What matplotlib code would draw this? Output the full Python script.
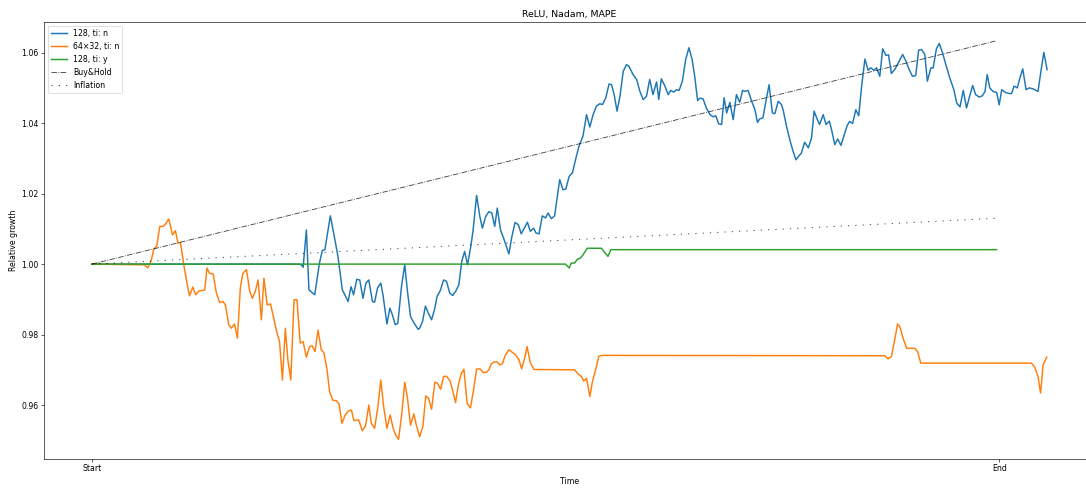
import matplotlib
matplotlib.use("Agg")
import matplotlib.pyplot as plt

# Tick positions / labels on the time axis
time_ticks = [0, 250]
time_labels = ["Start", "End"]

legend_labels = ["128, ti: n", "64\u00d732, ti: n", "128, ti: y", "Buy&Hold", "Inflation"]

# 128, ti: n
blue_t = [0, 57.0, 57.7, 58.2, 59.1, 59.8, 61.4, 62.7, 63.5, 64.2, 65.7, 66.8, 67.8, 69.0,
          70.6, 71.4, 72.1, 73.0, 73.8, 74.7, 75.5, 76.3, 77.3, 77.9, 78.7, 79.6, 80.2,
          81.3, 82.1, 82.8, 83.6, 84.3, 85.3, 86.2, 86.9, 87.8, 88.8, 89.9, 90.3, 91.1,
          91.9, 92.7, 93.6, 94.5, 95.1, 96.0, 96.9, 97.7, 98.6, 99.4, 100.2, 101.1, 101.9,
          102.7, 103.5, 104.4, 105.0, 106.0, 106.9, 107.6, 108.5, 109.4, 110.2, 111.0,
          111.7, 112.6, 113.6, 114.9, 115.7, 116.6, 117.5, 118.3, 119.3, 120.0, 120.8,
          121.7, 122.4, 123.2, 124.1, 125.0, 125.7, 126.6, 127.5, 128.2, 128.9, 129.8,
          130.6, 131.5, 132.4, 133.5, 134.2, 135.3, 136.3, 137.2, 138.1, 139.0, 139.9,
          140.7, 141.6, 142.5, 143.2, 143.9, 144.7, 145.5, 146.4, 147.3, 148.0, 149.1,
          150.1, 151.0, 151.9, 152.8, 153.7, 154.6, 155.6, 156.2, 156.9, 157.9, 158.8,
          159.5, 160.3, 161.1, 161.8, 162.7, 163.6, 164.5, 165.4, 166.1, 166.9, 167.5,
          168.4, 169.3, 170.3, 171.2, 171.9, 172.7, 173.5, 174.2, 174.9, 175.8, 176.7,
          177.6, 178.5, 179.3, 179.9, 180.8, 181.8, 182.7, 183.4, 184.0, 184.9, 185.9,
          186.6, 187.5, 188.2, 189.1, 190.0, 190.5, 191.4, 192.3, 193.2, 194.0, 194.9,
          195.5, 196.4, 197.4, 198.3, 199.0, 199.7, 200.5, 201.5, 202.3, 203.2, 203.8,
          204.7, 205.5, 206.4, 207.2, 208.1, 208.8, 209.6, 210.5, 211.3, 212.1, 213.0,
          213.9, 214.6, 215.5, 216.2, 217.1, 217.9, 218.8, 219.5, 220.3, 221.2, 222.2,
          223.4, 224.3, 225.2, 226.1, 227.0, 227.8, 228.6, 229.5, 230.2, 231.2, 231.8,
          232.7, 233.5, 234.4, 235.3, 236.4, 237.5, 238.3, 239.2, 240.1, 241.0, 241.9,
          242.7, 243.5, 244.5, 245.4, 246.1, 246.7, 247.4, 248.3, 249.3, 250.0, 250.7,
          251.7, 252.8, 253.4, 254.1, 255.0, 255.7, 256.5, 257.4, 258.3, 259.4, 260.7,
          261.5, 262.3, 263.2]
blue_v = [1.0, 1.0, 0.9998, 0.9991, 1.0097, 0.9927, 0.9913, 1.0003, 1.0039, 1.0041, 1.0137,
          1.0078, 1.0022, 0.9927, 0.9894, 0.9936, 0.9913, 0.9957, 0.9955, 0.9903, 0.9946,
          0.9955, 0.9894, 0.9892, 0.9932, 0.9946, 0.9913, 0.9830, 0.9875, 0.9856, 0.9828,
          0.9832, 0.9936, 0.9999, 0.9927, 0.9851, 0.9832, 0.9815, 0.9818, 0.9837, 0.9881,
          0.9861, 0.9842, 0.9875, 0.9908, 0.9925, 0.9955, 0.9951, 0.9918, 0.9911, 0.9922,
          0.9941, 1.0007, 1.0036, 0.9998, 1.0050, 1.0093, 1.0195, 1.0135, 1.0102, 1.0135,
          1.0149, 1.0145, 1.0107, 1.0159, 1.0097, 1.0069, 1.0029, 1.0077, 1.0118, 1.0112,
          1.0086, 1.0105, 1.0119, 1.0093, 1.0102, 1.0088, 1.0086, 1.0137, 1.0131, 1.0145,
          1.0129, 1.0137, 1.0188, 1.0240, 1.0211, 1.0213, 1.0249, 1.0259, 1.0306, 1.0334,
          1.0363, 1.0424, 1.0389, 1.0424, 1.0448, 1.0455, 1.0453, 1.0472, 1.0511, 1.0509,
          1.0481, 1.0434, 1.0476, 1.0547, 1.0566, 1.0561, 1.0538, 1.0524, 1.0490, 1.0467,
          1.0476, 1.0524, 1.0481, 1.0517, 1.0467, 1.0526, 1.0505, 1.0481, 1.0493, 1.0488,
          1.0495, 1.0493, 1.0519, 1.0580, 1.0614, 1.0580, 1.0533, 1.0464, 1.0471, 1.0469,
          1.0443, 1.0424, 1.0418, 1.0421, 1.0398, 1.0396, 1.0472, 1.0429, 1.0459, 1.0410,
          1.0481, 1.0459, 1.0493, 1.0490, 1.0493, 1.0462, 1.0438, 1.0402, 1.0412, 1.0415,
          1.0472, 1.0509, 1.0429, 1.0427, 1.0462, 1.0453, 1.0436, 1.0391, 1.0353, 1.0320,
          1.0296, 1.0308, 1.0315, 1.0346, 1.0330, 1.0358, 1.0434, 1.0415, 1.0396, 1.0424,
          1.0396, 1.0406, 1.0382, 1.0339, 1.0355, 1.0337, 1.0363, 1.0393, 1.0405, 1.0399,
          1.0438, 1.0421, 1.0505, 1.0582, 1.0550, 1.0557, 1.0550, 1.0557, 1.0533, 1.0611,
          1.0592, 1.0594, 1.0541, 1.0552, 1.0571, 1.0595, 1.0576, 1.0552, 1.0533, 1.0535,
          1.0607, 1.0609, 1.0595, 1.0519, 1.0557, 1.0557, 1.0611, 1.0626, 1.0599, 1.0566,
          1.0528, 1.0495, 1.0457, 1.0446, 1.0493, 1.0443, 1.0478, 1.0507, 1.0481, 1.0474,
          1.0478, 1.0490, 1.0538, 1.0500, 1.0490, 1.0487, 1.0452, 1.0495, 1.0487, 1.0484,
          1.0484, 1.0505, 1.0500, 1.0528, 1.0554, 1.0495, 1.0500, 1.0497, 1.0490, 1.0547,
          1.0601, 1.0552]

# 64x32, ti: n
orange_t = [0, 14.5, 15.4, 16.4, 17.0, 17.9, 18.7, 19.6, 20.3, 21.2, 22.2, 23.0, 23.7, 24.4,
            25.4, 26.2, 26.9, 27.8, 28.6, 29.5, 30.4, 31.1, 31.7, 32.4, 33.4, 34.3, 35.2,
            36.1, 36.8, 37.7, 38.4, 39.3, 40.1, 40.9, 41.6, 42.6, 43.5, 44.2, 45.0, 45.8,
            46.7, 47.4, 48.3, 49.2, 49.9, 50.8, 51.7, 52.5, 53.3, 54.0, 54.8, 55.7, 56.5,
            57.4, 58.2, 59.1, 60.0, 60.7, 61.5, 62.3, 63.2, 63.9, 64.8, 65.5, 66.4, 67.4,
            68.1, 68.9, 69.8, 70.8, 71.5, 72.2, 73.5, 74.5, 75.4, 76.3, 77.0, 77.9, 78.8,
            79.6, 80.4, 81.3, 82.2, 83.0, 83.7, 84.5, 85.4, 86.2, 86.9, 87.8, 88.7, 89.4,
            90.3, 91.2, 92.0, 92.8, 93.6, 94.5, 95.2, 96.1, 96.9, 97.7, 98.7, 99.3, 100.2,
            101.0, 101.8, 102.5, 103.4, 104.3, 105.1, 106.0, 106.9, 107.9, 108.7, 109.4,
            110.0, 110.8, 111.6, 112.4, 113.1, 113.9, 114.9, 115.9, 116.8, 117.7, 118.4,
            119.3, 119.9, 120.8, 121.8, 133.0, 134.0, 134.9, 135.5, 136.3, 137.2, 137.9,
            138.8, 139.7, 140.8, 218.5, 219.4, 220.3, 221.2, 222.0, 222.6, 223.5, 224.5,
            226.8, 227.5, 228.4, 258.9, 259.8, 260.7, 261.4, 262.1, 263.1]
orange_v = [1.0, 0.9998, 0.9989, 1.0012, 1.0041, 1.0052, 1.0107, 1.0107, 1.0114, 1.0128,
            1.0083, 1.0095, 1.0060, 1.0061, 0.9993, 0.9946, 0.9910, 0.9935, 0.9913, 0.9924,
            0.9925, 0.9927, 0.9989, 0.9974, 0.9972, 0.9918, 0.9891, 0.9894, 0.9884, 0.9828,
            0.9818, 0.9830, 0.9790, 0.9932, 0.9974, 0.9984, 0.9922, 0.9903, 0.9922, 0.9955,
            0.9842, 0.9960, 0.9884, 0.9887, 0.9856, 0.9813, 0.9780, 0.9671, 0.9818, 0.9728,
            0.9671, 0.9899, 0.9899, 0.9776, 0.9780, 0.9736, 0.9766, 0.9768, 0.9752, 0.9813,
            0.9757, 0.9749, 0.9700, 0.9638, 0.9614, 0.9612, 0.9603, 0.9548, 0.9572, 0.9584,
            0.9586, 0.9556, 0.9558, 0.9527, 0.9541, 0.9600, 0.9548, 0.9534, 0.9595, 0.9671,
            0.9595, 0.9534, 0.9572, 0.9534, 0.9515, 0.9503, 0.9577, 0.9665, 0.9624, 0.9543,
            0.9575, 0.9543, 0.9510, 0.9539, 0.9626, 0.9619, 0.9588, 0.9665, 0.9662, 0.9645,
            0.9681, 0.9682, 0.9668, 0.9646, 0.9607, 0.9659, 0.9690, 0.9702, 0.9604, 0.9592,
            0.9639, 0.9702, 0.9703, 0.9692, 0.9693, 0.9700, 0.9717, 0.9722, 0.9723, 0.9714,
            0.9717, 0.9741, 0.9757, 0.9749, 0.9742, 0.9728, 0.9703, 0.9735, 0.9766, 0.9720,
            0.9701, 0.9700, 0.9688, 0.9681, 0.9668, 0.9676, 0.9624, 0.9666, 0.9700, 0.9739,
            0.9741, 0.9740, 0.9731, 0.9738, 0.9785, 0.9830, 0.9823, 0.9790, 0.9761, 0.9761,
            0.9752, 0.9719, 0.9719, 0.9707, 0.9681, 0.9634, 0.9714, 0.9736]

# 128, ti: y
green_t = [0, 130.5, 131.5, 132.1, 133.0, 133.8, 134.6, 135.3, 136.5, 140.4, 141.3, 142.2,
           143.0, 249.3]
green_v = [1.0, 1.0, 0.9989, 1.0003, 1.0003, 1.0014, 1.0017, 1.0026, 1.0045, 1.0045,
           1.0033, 1.0022, 1.0041, 1.0041]

# Benchmarks
buyhold_t = [0, 249]
buyhold_v = [1.0, 1.0633]
inflation_t = [0, 249]
inflation_v = [1.0, 1.0130]

W, H, DPI = 1086, 490, 56
fig = plt.figure(figsize=(W / DPI, H / DPI), dpi=DPI)
ax = fig.add_axes([44 / W, (H - 459) / H, (1095 - 44) / W, (459 - 22) / H])

SERIES_LW = 1.9
ax.plot(blue_t, blue_v, color="C0", linewidth=SERIES_LW, label=legend_labels[0])
ax.plot(orange_t, orange_v, color="C1", linewidth=SERIES_LW, label=legend_labels[1])
ax.plot(green_t, green_v, color="C2", linewidth=SERIES_LW, label=legend_labels[2])
ax.plot(buyhold_t, buyhold_v, color="k", linestyle="-.", linewidth=1.1, alpha=0.75,
        label=legend_labels[3])
ax.plot(inflation_t, inflation_v, color="k", linestyle=(0, (1.2, 6)), linewidth=1.3,
        alpha=0.7, label=legend_labels[4])

ax.set_xlim(-13.2, 276.4)
ax.set_ylim(0.9447, 1.0687)
ax.set_xticks(time_ticks)
ax.set_xticklabels(time_labels)
ax.set_xlabel("Time")
ax.set_ylabel("Relative growth")
ax.set_title("ReLU, Nadam, MAPE")
ax.legend(loc="upper left")

fig.savefig("out.png", dpi=DPI)
